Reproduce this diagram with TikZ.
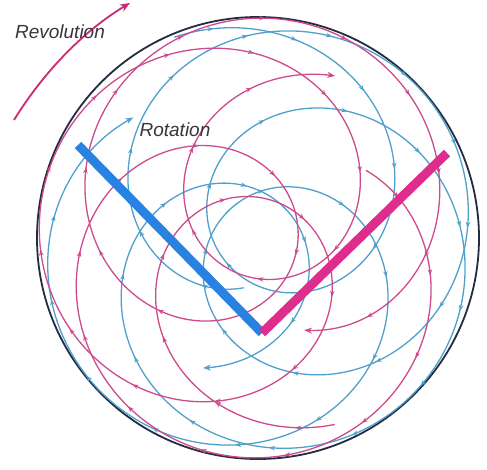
\documentclass[tikz,border=0pt]{standalone}
\usepackage{fontspec}
\setmainfont{Liberation Sans}
\usetikzlibrary{arrows.meta,decorations.markings}
\definecolor{cblue}{RGB}{80,160,205}
\definecolor{cpink}{RGB}{205,75,140}
\definecolor{barblue}{RGB}{40,130,225}
\definecolor{barpink}{RGB}{222,45,140}
\definecolor{rim}{RGB}{35,45,65}
\definecolor{revcol}{RGB}{205,40,115}
\definecolor{txt}{RGB}{55,55,60}
\tikzset{
  trail/.style={line width=1.3pt, postaction={decorate},
    decoration={markings, mark=between positions 0.02 and 0.97 step 85pt with {\arrow{Stealth[length=6pt,width=4.5pt]}}}},
  endtip/.style={-{Stealth[length=8pt,width=6pt]}},
  bar/.style={line width=9pt, line cap=butt},
  lbl/.style={font=\fontsize{19}{22}\selectfont\itshape, text=txt, inner sep=0pt},
}
\begin{document}
\begin{tikzpicture}[x=1pt,y=-1pt]
\useasboundingbox (0,0) rectangle (487,470);
\fill[white] (0,0) rectangle (487,470);
\coordinate (C) at (258,238);
\coordinate (V) at (262,333);
\coordinate (B) at (78,145);
\coordinate (P) at (447,153);
\coordinate (rs) at (14,120);
\coordinate (re) at (130,3);
% outer rim
\draw[rim, line width=1.8pt] (C) circle [radius=221];
% blue trails
\draw[cblue, trail, endtip] plot[domain=0:300, samples=600, variable=\s]
  ({258+90*cos(\s-123)+130*cos(3*\s-825.5)}, {238+90*sin(\s-123)+130*sin(3*\s-825.5)});
\draw[cblue, trail, endtip] plot[domain=0:300, samples=600, variable=\s]
  ({258+90*cos(\s-123)+130*cos(3*\s-645.5)}, {238+90*sin(\s-123)+130*sin(3*\s-645.5)});
% pink trails
\draw[cpink, trail, endtip] plot[domain=0:300, samples=600, variable=\s]
  ({258+90*cos(\s-321)+130*cos(3*\s-793)}, {238+90*sin(\s-321)+130*sin(3*\s-793)});
\draw[cpink, trail, endtip] plot[domain=0:300, samples=600, variable=\s]
  ({258+90*cos(\s-321)+130*cos(3*\s-633)}, {238+90*sin(\s-321)+130*sin(3*\s-633)});
% bars
\draw[barblue, bar] (B) -- (V);
\draw[barpink, bar] (P) -- (V);
% revolution arrow
\draw[revcol, line width=1.8pt, -{Stealth[length=10pt,width=8pt]}] (rs) .. controls (45,70) and (85,30) .. (re);
\node[lbl] (rev) at (60,32) {Revolution};
\node[lbl] (rot) at (175,130) {Rotation};
\end{tikzpicture}
\end{document}
